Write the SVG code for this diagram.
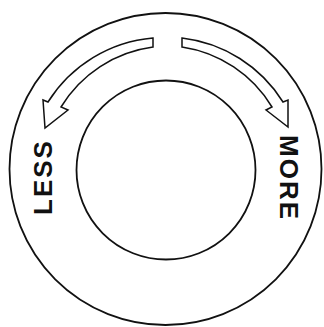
<svg xmlns="http://www.w3.org/2000/svg" width="324" height="327" viewBox="0 0 324 327">
<style>
.ring{fill:none;stroke:#111;stroke-width:1.8}
.arrow{fill:#fff;stroke:#111;stroke-width:1.5;stroke-linejoin:miter}
.lbl{font-family:"Liberation Sans",Arial,sans-serif;font-weight:bold;font-size:26px;fill:#111;letter-spacing:2px}
</style>
<rect width="324" height="327" fill="#fff"/>
<g id="outer-ring"><circle class="ring" cx="165.5" cy="169" r="156"/></g>
<g id="inner-circle"><circle class="ring" cx="166" cy="170" r="89.5"/></g>
<g id="connectors">
<path id="arrow-less" class="arrow" d="M153,38 A138,138 0 0,0 48,102 L43,100 L45,128 L68,110 L61,107 A127,127 0 0,1 153,47 Z"/>
<path id="arrow-more" class="arrow" d="M182,38 A138,138 0 0,1 283,102 L288,100 L288,127 L266,110 L272,107 A127,127 0 0,0 182,47 Z"/>
</g>
<g id="label-less"><text class="lbl" text-anchor="middle" transform="translate(52,177) rotate(-90)">LESS</text></g>
<g id="label-more"><text class="lbl" text-anchor="middle" transform="translate(280,178) rotate(90)">MORE</text></g>
</svg>
